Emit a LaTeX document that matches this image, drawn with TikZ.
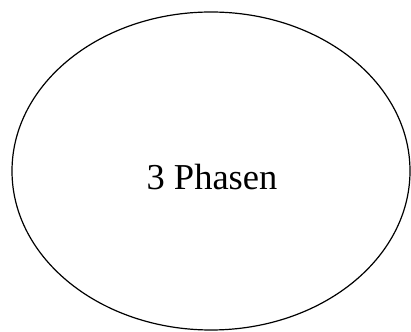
\documentclass[tikz,border=0pt]{standalone}
\usepackage{fontspec}
\setmainfont{Liberation Serif}
\usetikzlibrary{shapes.geometric}
\tikzset{
  phase/.style={draw=black, line width=1.2pt, ellipse, minimum width=398pt, minimum height=318pt, inner sep=0pt},
  lbl/.style={font=\fontsize{36.5}{40}\selectfont, inner sep=0pt}
}
\begin{document}
\begin{tikzpicture}[x=1pt,y=1pt]
\useasboundingbox (0,0) rectangle (411,331);
\node[phase] (e) at (211,160) {};
\node[lbl, anchor=base] (t) at (212,141) {3 Phasen};
\end{tikzpicture}
\end{document}
